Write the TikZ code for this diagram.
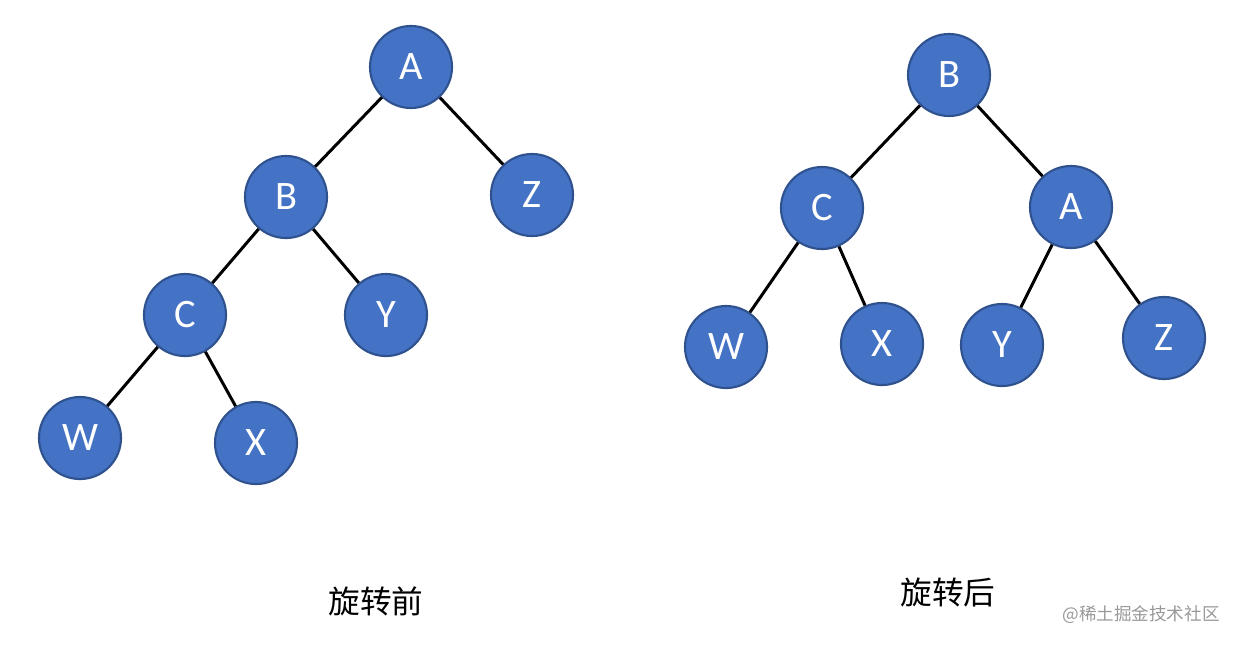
\documentclass[tikz,border=0pt]{standalone}
\usepackage{fontspec}
\setmainfont{Carlito}
\newfontfamily\cjk{Noto Sans CJK SC}
\definecolor{nodeblue}{HTML}{4472C4}
\definecolor{nodeedge}{HTML}{2F528F}
\tikzset{
  treenode/.style={circle, fill=nodeblue, draw=nodeedge, line width=0.6pt,
    minimum size=0.82cm, inner sep=0pt, text=white,
    font=\fontsize{11.5}{12}\selectfont},
  treeedge/.style={line width=0.85pt, color=black}
}
\begin{document}
\begin{tikzpicture}[x=0.01cm, y=-0.01cm]
\useasboundingbox (0,0) rectangle (1240,645);
% before rotation
\node[treenode] (lA) at (411,67) {A};
\node[treenode] (lB) at (286,197) {B};
\node[treenode] (lZ) at (532,195) {Z};
\node[treenode] (lC) at (185,315) {C};
\node[treenode] (lY) at (386,315) {Y};
\node[treenode] (lW) at (80,438) {W};
\node[treenode] (lX) at (256,443) {X};
\draw[treeedge] (lA) -- (lB);
\draw[treeedge] (lA) -- (lZ);
\draw[treeedge] (lB) -- (lC);
\draw[treeedge] (lB) -- (lY);
\draw[treeedge] (lC) -- (lW);
\draw[treeedge] (lC) -- (lX);
% after rotation
\node[treenode] (rB) at (949,75) {B};
\node[treenode] (rC) at (822,208) {C};
\node[treenode] (rA) at (1071,207) {A};
\node[treenode] (rW) at (726,347) {W};
\node[treenode] (rX) at (882,344) {X};
\node[treenode] (rY) at (1002,345) {Y};
\node[treenode] (rZ) at (1164,338) {Z};
\draw[treeedge] (rB) -- (rC);
\draw[treeedge] (rB) -- (rA);
\draw[treeedge] (rC) -- (rW);
\draw[treeedge] (rC) -- (rX);
\draw[treeedge] (rA) -- (rY);
\draw[treeedge] (rA) -- (rZ);
% captions
\node[font=\cjk\fontsize{9}{10}\selectfont] (capL) at (376,601) {旋转前};
\node[font=\cjk\fontsize{9}{10}\selectfont] (capR) at (948,592) {旋转后};
\node[font=\cjk\fontsize{5}{6}\selectfont, text=black!40] (mark) at (1141,615) {@稀土掘金技术社区};
\end{tikzpicture}
\end{document}
